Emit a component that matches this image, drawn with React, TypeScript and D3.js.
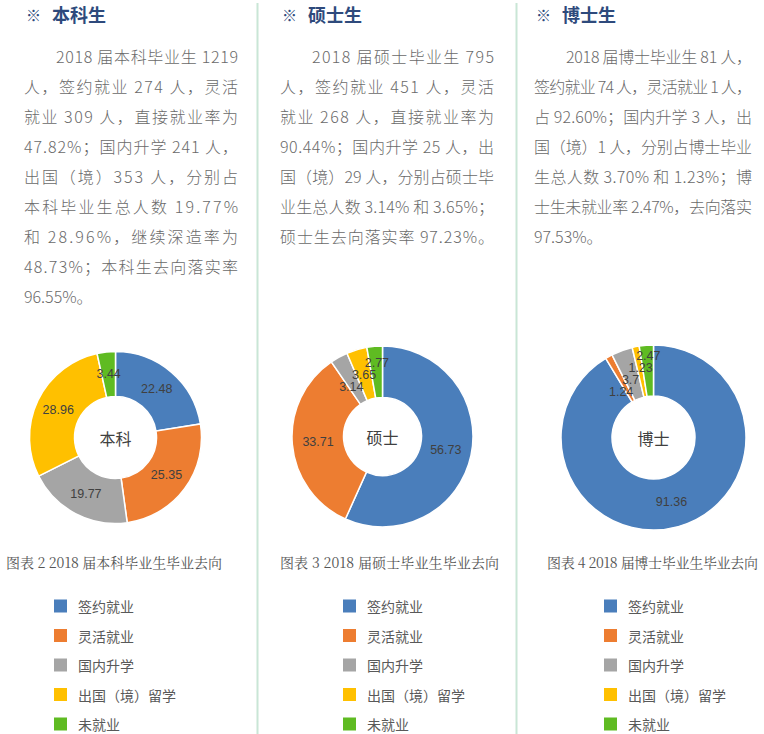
import React, { useMemo } from 'react'
import * as d3 from 'd3'

// categories and colours shared by all three donuts
const categories = ['签约就业', '灵活就业', '国内升学', '出国（境）留学', '未就业']
const sliceColors = ['#4a7ebb', '#ed7d31', '#a5a5a5', '#ffc000', '#5fbb22']

// percentages read from the donuts
const undergradValues = [22.48, 25.35, 19.77, 28.96, 3.44]
const masterValues = [56.73, 33.71, 3.14, 3.65, 2.77]
const doctorValues = [91.36, 1.24, 3.7, 1.23, 2.47]

const undergradLines = [
  '2018 届本科毕业生 1219',
  '人，签约就业 274 人，灵活',
  '就业 309 人，直接就业率为',
  '47.82%；国内升学 241 人，',
  '出国（境）353 人，分别占',
  '本科毕业生总人数 19.77%',
  '和 28.96%，继续深造率为',
  '48.73%；本科生去向落实率',
  '96.55%。',
]
const masterLines = [
  '2018 届硕士毕业生 795',
  '人，签约就业 451 人，灵活',
  '就业 268 人，直接就业率为',
  '90.44%；国内升学 25 人，出',
  '国（境）29 人，分别占硕士毕',
  '业生总人数 3.14% 和 3.65%；',
  '硕士生去向落实率 97.23%。',
]
const doctorLines = [
  '2018 届博士毕业生 81 人，',
  '签约就业 74 人，灵活就业 1 人，',
  '占 92.60%；国内升学 3 人，出',
  '国（境）1 人，分别占博士毕业',
  '生总人数 3.70% 和 1.23%；博',
  '士生未就业率 2.47%，去向落实',
  '97.53%。',
]

const titles = ['本科生', '硕士生', '博士生']
const centerLabels = ['本科', '硕士', '博士']
const captions = [
  '图表 2 2018 届本科毕业生毕业去向',
  '图表 3 2018 届硕士毕业生毕业去向',
  '图表 4 2018 届博士毕业生毕业去向',
]

const W = 764
const H = 734
const cjk = "'Noto Sans CJK SC', 'Noto Sans', sans-serif"

interface PanelLayout {
  left: number
  right: number
  cx: number
  cy: number
  rOut: number
  rIn: number
  capLeft: number
  capRight: number
  legendX: number
  justifyLast: boolean
}

const layouts: PanelLayout[] = [
  { left: 24, right: 238, cx: 115.5, cy: 437.5, rOut: 86, rIn: 41, capLeft: 6, capRight: 222, legendX: 54, justifyLast: false },
  { left: 280, right: 494, cx: 382.5, cy: 436.5, rOut: 90.5, rIn: 39, capLeft: 280, capRight: 499, legendX: 343, justifyLast: true },
  { left: 534, right: 752, cx: 653.5, cy: 437.5, rOut: 92.5, rIn: 41.5, capLeft: 547, capRight: 758, legendX: 604, justifyLast: false },
]

const panelValues = [undergradValues, masterValues, doctorValues]
const panelLines = [undergradLines, masterLines, doctorLines]

// spread labels of thin neighbouring slices vertically, like the office chart does
function spreadLabels(pts: { x: number; y: number }[]) {
  const n = pts.length
  const parent = d3.range(n)
  const find = (i: number): number => (parent[i] === i ? i : (parent[i] = find(parent[i])))
  for (let i = 0; i < n; i++) {
    for (let j = i + 1; j < n; j++) {
      if (Math.abs(pts[i].x - pts[j].x) < 26 && Math.abs(pts[i].y - pts[j].y) < 12) {
        parent[find(i)] = find(j)
      }
    }
  }
  const groups = d3.group(d3.range(n), i => find(i))
  const out = pts.map(p => ({ ...p }))
  groups.forEach(members => {
    if (members.length < 2) return
    const sorted = [...members].sort((a, b) => pts[a].y - pts[b].y)
    const mean = d3.mean(sorted, i => pts[i].y) as number
    sorted.forEach((i, k) => {
      out[i].y = mean + (k - (sorted.length - 1) / 2) * 12
    })
  })
  return out
}

const Donut: React.FC<{ values: number[]; layout: PanelLayout; center: string }> = ({ values, layout, center }) => {
  const pie = useMemo(() => d3.pie<number>().sort(null).value(d => d)(values), [values])
  const arc = d3.arc<d3.PieArcDatum<number>>().innerRadius(layout.rIn).outerRadius(layout.rOut)
  const labels = spreadLabels(
    pie.map(p => {
      const [x, y] = arc.centroid(p)
      return { x, y }
    })
  )
  return (
    <g transform={`translate(${layout.cx},${layout.cy})`}>
      {pie.map((p, i) => (
        <path key={i} d={arc(p) || ''} fill={sliceColors[i]} stroke="#fff" strokeWidth={1.5} />
      ))}
      {pie.map((p, i) => (
        <text
          key={'l' + i}
          x={labels[i].x}
          y={labels[i].y}
          textAnchor="middle"
          dominantBaseline="central"
          fontFamily="'Liberation Sans', Arial, sans-serif"
          fontSize={12.5}
          fill="#404040"
        >
          {String(p.data)}
        </text>
      ))}
      <text textAnchor="middle" dominantBaseline="central" fontFamily={cjk} fontSize={16} fill="#404040">
        {center}
      </text>
    </g>
  )
}

const App: React.FC = () => {
  return (
    <div style={{ position: 'absolute', left: 0, top: 0 }}>
      <svg width={W} height={H} style={{ display: 'block', background: '#fff' }}>
        {/* dividers */}
        {[257.5, 516.5].map(x => (
          <line key={x} x1={x} x2={x} y1={3} y2={H} stroke="#c9e6d6" strokeWidth={2} />
        ))}
        {layouts.map((lay, pi) => {
          const lines = panelLines[pi]
          const width = lay.right - lay.left
          return (
            <g key={pi}>
              {/* heading */}
              <text x={lay.left + 2} y={14} dominantBaseline="central" fontFamily={cjk} fontSize={15} fill="#2e4a7c">
                ※
              </text>
              <text
                x={lay.left + 28}
                y={14}
                dominantBaseline="central"
                fontFamily={cjk}
                fontSize={18}
                fontWeight="bold"
                fill="#2e4a7c"
              >
                {titles[pi]}
              </text>
              {/* paragraph */}
              {lines.map((ln, li) => {
                const indent = li === 0 ? 32 : 0
                const isLast = li === lines.length - 1
                const justify = !isLast || lay.justifyLast
                return (
                  <text
                    key={li}
                    x={lay.left + indent}
                    y={56 + li * 30}
                    dominantBaseline="central"
                    fontFamily={cjk}
                    fontSize={16}
                    fontWeight={300}
                    fill="#6a6a6a"
                    textLength={justify ? width - indent : undefined}
                    lengthAdjust={justify ? 'spacing' : undefined}
                  >
                    {ln}
                  </text>
                )
              })}
              <Donut values={panelValues[pi]} layout={lay} center={centerLabels[pi]} />
              {/* caption */}
              <text
                x={lay.capLeft}
                y={562}
                dominantBaseline="central"
                fontFamily={"'Noto Serif CJK SC', serif"}
                fontSize={14}
                fill="#555"
                textLength={lay.capRight - lay.capLeft}
                lengthAdjust="spacing"
              >
                {captions[pi]}
              </text>
              {/* legend */}
              {categories.map((c, ci) => (
                <g key={c} transform={`translate(${lay.legendX},${606 + ci * 29.5})`}>
                  <rect x={0} y={-6.5} width={13} height={13} fill={sliceColors[ci]} />
                  <text x={24} y={0} dominantBaseline="central" fontFamily={cjk} fontSize={14} fill="#595959">
                    {c}
                  </text>
                </g>
              ))}
            </g>
          )
        })}
      </svg>
    </div>
  )
}

export default App
